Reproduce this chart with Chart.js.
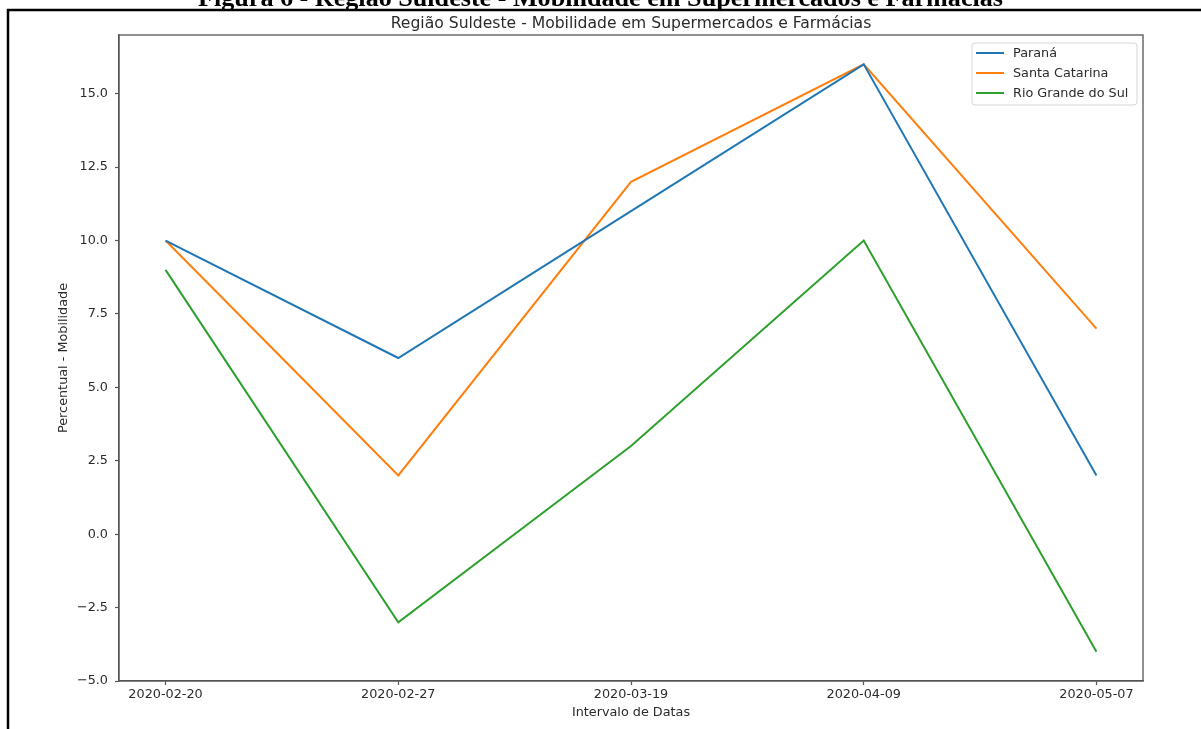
<!DOCTYPE html>
<html>
<head>
<meta charset="utf-8">
<script src="https://cdn.jsdelivr.net/npm/chart.js@4.4.1/dist/chart.umd.min.js"></script>
<style>
  html, body { margin: 0; padding: 0; background: #fff; }
  #wrap { position: relative; width: 1201px; height: 729px; }
</style>
</head>
<body>
<div id="wrap"><canvas id="c"></canvas></div>
<script>
// Weekly dates on the x axis
const dates = ['2020-02-20', '2020-02-27', '2020-03-19', '2020-04-09', '2020-05-07'];

// Mobility change (%) in supermarkets and pharmacies, per state
const parana = [10, 6, 11, 16, 2];
const santaCatarina = [10, 2, 12, 16, 7];
const rioGrandeDoSul = [9, -3, 3, 10, -4];

const seriesNames = ['Paraná', 'Santa Catarina', 'Rio Grande do Sul'];
const seriesColors = ['#1f77b4', '#ff7f0e', '#2ca02c'];

const yTicks = [-5, -2.5, 0, 2.5, 5, 7.5, 10, 12.5, 15];

const figureCaption = 'Figura 6 - Região Suldeste - Mobilidade em Supermercados e Farmácias';
const chartTitle = 'Região Suldeste - Mobilidade em Supermercados e Farmácias';
const xTitle = 'Intervalo de Datas';
const yTitle = 'Percentual - Mobilidade';

const FONT = 'DejaVu Sans';
const TEXT = '#2b2b2b';
const SPINE = '#555555';

const toPoints = arr => arr.map((v, i) => ({ x: i, y: v }));
const fmtY = v => (v < 0 ? '\u2212' + Math.abs(v).toFixed(1) : v.toFixed(1));

// Title, legend box, plot frame and the page frame/caption
const decorations = {
  id: 'decorations',
  afterDraw(chart) {
    const { ctx, chartArea: a } = chart;
    ctx.save();

    // plot frame (top and right spines)
    ctx.strokeStyle = SPINE;
    ctx.lineWidth = 1.3;
    ctx.strokeRect(a.left, a.top, a.right - a.left, a.bottom - a.top);

    // chart title
    ctx.fillStyle = TEXT;
    ctx.font = '15.6px "' + FONT + '"';
    ctx.textAlign = 'center';
    ctx.textBaseline = 'middle';
    ctx.fillText(chartTitle, (a.left + a.right) / 2, 24);

    // legend
    const ds = chart.data.datasets;
    const lw = 165, lh = 62;
    const lx = a.right - 6 - lw, ly = a.top + 8;
    ctx.beginPath();
    ctx.roundRect(lx, ly, lw, lh, 3);
    ctx.fillStyle = 'rgba(255,255,255,0.85)';
    ctx.fill();
    ctx.strokeStyle = '#d6d6d6';
    ctx.lineWidth = 1;
    ctx.stroke();
    ctx.font = '12.8px "' + FONT + '"';
    ctx.textAlign = 'left';
    ds.forEach((d, i) => {
      const yy = ly + 10 + i * 20;
      ctx.strokeStyle = d.borderColor;
      ctx.lineWidth = 2;
      ctx.beginPath();
      ctx.moveTo(lx + 4, yy);
      ctx.lineTo(lx + 32, yy);
      ctx.stroke();
      ctx.fillStyle = TEXT;
      ctx.fillText(d.label, lx + 41, yy + 0.5);
    });

    // page frame
    ctx.strokeStyle = '#000';
    ctx.lineWidth = 2.5;
    ctx.beginPath();
    ctx.moveTo(1201, 10);
    ctx.lineTo(8, 10);
    ctx.lineTo(8, 729);
    ctx.stroke();

    // caption above the frame
    ctx.fillStyle = '#000';
    ctx.textAlign = 'center';
    ctx.textBaseline = 'alphabetic';
    ctx.font = 'bold 24px "Liberation Serif"';
    const w = ctx.measureText(figureCaption).width;
    const size = 24 * 805 / w;
    ctx.font = 'bold ' + size.toFixed(2) + 'px "Liberation Serif"';
    ctx.fillText(figureCaption, 600.5, 5.5);

    ctx.restore();
  }
};

new Chart(document.getElementById('c'), {
  type: 'line',
  data: {
    datasets: [
      { label: seriesNames[0], data: toPoints(parana), borderColor: seriesColors[0] },
      { label: seriesNames[1], data: toPoints(santaCatarina), borderColor: seriesColors[1] },
      { label: seriesNames[2], data: toPoints(rioGrandeDoSul), borderColor: seriesColors[2] }
    ]
  },
  options: {
    responsive: true,
    maintainAspectRatio: false,
    animation: false,
    events: [],
    layout: { padding: { left: 0, top: 35, right: 58, bottom: 0 } },
    elements: {
      line: { borderWidth: 2, tension: 0, fill: false },
      point: { radius: 0 }
    },
    plugins: {
      legend: { display: false },
      title: { display: false },
      tooltip: { enabled: false }
    },
    scales: {
      x: {
        type: 'linear',
        min: -0.2,
        max: 4.2,
        afterBuildTicks: s => { s.ticks = dates.map((d, i) => ({ value: i })); },
        afterFit: s => { s.height = 48; },
        ticks: {
          callback: v => dates[Math.round(v)],
          autoSkip: false,
          maxRotation: 0,
          padding: 1.5,
          color: TEXT,
          font: { family: FONT, size: 12.8 }
        },
        grid: { drawOnChartArea: false, tickLength: 4, tickColor: SPINE, tickWidth: 1.2 },
        border: { color: SPINE, width: 1.3 },
        title: {
          display: true,
          text: xTitle,
          color: TEXT,
          font: { family: FONT, size: 12.8 },
          padding: { top: 0, bottom: 8.5 }
        }
      },
      y: {
        min: -5,
        max: 17,
        afterBuildTicks: s => { s.ticks = yTicks.map(v => ({ value: v })); },
        afterFit: s => { s.width = 119; },
        ticks: {
          callback: v => fmtY(v),
          padding: 7,
          color: TEXT,
          font: { family: FONT, size: 12.8 }
        },
        grid: { drawOnChartArea: false, tickLength: 4, tickColor: SPINE, tickWidth: 1.2 },
        border: { color: SPINE, width: 1.3 },
        title: {
          display: true,
          text: yTitle,
          color: TEXT,
          font: { family: FONT, size: 12.8 },
          padding: { top: 55.5, bottom: 0 }
        }
      }
    }
  },
  plugins: [decorations]
});
</script>
</body>
</html>
